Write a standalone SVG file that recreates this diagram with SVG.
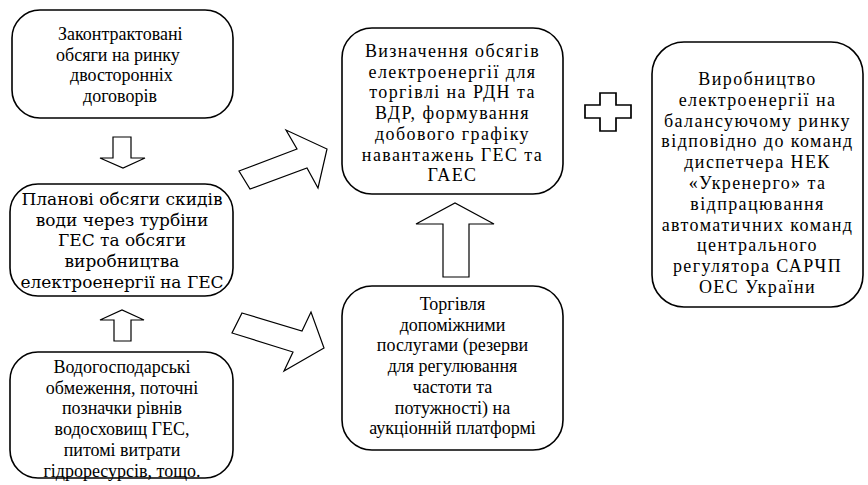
<svg xmlns="http://www.w3.org/2000/svg" width="868" height="485" viewBox="0 0 868 485">
  <rect width="868" height="485" fill="#ffffff"/>

  <g id="contracted">
    <rect x="12" y="10" width="221" height="108" rx="28" ry="28" fill="#ffffff" stroke="#000000" stroke-width="1.6"/>
    <text font-family="Liberation Serif" font-size="18" x="58" y="40">Законтрактовані</text>
    <text font-family="Liberation Serif" font-size="18" x="56" y="60.7">обсяги на ринку</text>
    <text font-family="Liberation Serif" font-size="18" x="70" y="81.4">двосторонніх</text>
    <text font-family="Liberation Serif" font-size="18" x="83" y="102.1">договорів</text>
  </g>

  <g id="planned">
    <rect x="10" y="184" width="223" height="112" rx="28" ry="28" fill="#ffffff" stroke="#000000" stroke-width="1.6"/>
    <text font-family="DejaVu Serif" font-size="17" text-anchor="middle" x="122" y="205">Планові обсяги скидів</text>
    <text font-family="DejaVu Serif" font-size="17" text-anchor="middle" x="122" y="225.7">води через турбіни</text>
    <text font-family="DejaVu Serif" font-size="17" text-anchor="middle" x="122" y="246.4">ГЕС та обсяги</text>
    <text font-family="DejaVu Serif" font-size="17" text-anchor="middle" x="122" y="267.1">виробництва</text>
    <text font-family="DejaVu Serif" font-size="17" text-anchor="middle" x="122" y="287.8">електроенергії на ГЕС</text>
  </g>

  <g id="constraints">
    <rect x="10" y="352" width="223" height="126" rx="28" ry="28" fill="#ffffff" stroke="#000000" stroke-width="1.6"/>
    <text font-family="Times New Roman" font-size="18" text-anchor="middle" x="122" y="373">Водогосподарські</text>
    <text font-family="Times New Roman" font-size="18" text-anchor="middle" x="122" y="393.7">обмеження, поточні</text>
    <text font-family="Times New Roman" font-size="18" text-anchor="middle" x="122" y="414.4">позначки рівнів</text>
    <text font-family="Times New Roman" font-size="18" text-anchor="middle" x="122" y="435.1">водосховищ ГЕС,</text>
    <text font-family="Times New Roman" font-size="18" text-anchor="middle" x="122" y="455.8">питомі витрати</text>
    <text font-family="Times New Roman" font-size="18" text-anchor="middle" x="122" y="476.5">гідроресурсів, тощо.</text>
  </g>

  <g id="volumes">
    <rect x="342" y="28" width="221" height="166" rx="30" ry="30" fill="#ffffff" stroke="#000000" stroke-width="1.6"/>
    <text style="font-family:'Liberation Serif',serif !important" font-size="18" letter-spacing="1.4" text-anchor="middle" x="452.5" y="57">Визначення обсягів</text>
    <text style="font-family:'Liberation Serif',serif !important" font-size="18" letter-spacing="1.4" text-anchor="middle" x="452.5" y="77.7">електроенергії для</text>
    <text style="font-family:'Liberation Serif',serif !important" font-size="18" letter-spacing="1.4" text-anchor="middle" x="452.5" y="98.4">торгівлі на РДН та</text>
    <text style="font-family:'Liberation Serif',serif !important" font-size="18" letter-spacing="1.4" text-anchor="middle" x="452.5" y="119.1">ВДР, формування</text>
    <text style="font-family:'Liberation Serif',serif !important" font-size="18" letter-spacing="1.4" text-anchor="middle" x="452.5" y="139.8">добового графіку</text>
    <text style="font-family:'Liberation Serif',serif !important" font-size="18" letter-spacing="1.4" text-anchor="middle" x="452.5" y="160.5">навантажень ГЕС та</text>
    <text style="font-family:'Liberation Serif',serif !important" font-size="18" letter-spacing="1.4" text-anchor="middle" x="452.5" y="181.2">ГАЕС</text>
  </g>

  <g id="ancillary">
    <rect x="342" y="286" width="221" height="164" rx="30" ry="30" fill="#ffffff" stroke="#000000" stroke-width="1.6"/>
    <text font-family="Liberation Serif" font-size="18" text-anchor="middle" x="452.5" y="310">Торгівля</text>
    <text font-family="Liberation Serif" font-size="18" text-anchor="middle" x="452.5" y="330.7">допоміжними</text>
    <text font-family="Liberation Serif" font-size="18" text-anchor="middle" x="452.5" y="351.4">послугами (резерви</text>
    <text font-family="Liberation Serif" font-size="18" text-anchor="middle" x="452.5" y="372.1">для регулювання</text>
    <text font-family="Liberation Serif" font-size="18" text-anchor="middle" x="452.5" y="392.8">частоти та</text>
    <text font-family="Liberation Serif" font-size="18" text-anchor="middle" x="452.5" y="413.5">потужності) на</text>
    <text font-family="Liberation Serif" font-size="18" text-anchor="middle" x="452.5" y="434.2">аукціонній платформі</text>
  </g>

  <g id="balancing">
    <rect x="652" y="42" width="211" height="265" rx="32" ry="32" fill="#ffffff" stroke="#000000" stroke-width="1.6"/>
    <text font-family="serif" font-size="18" letter-spacing="1.4" text-anchor="middle" x="757.5" y="85">Виробництво</text>
    <text font-family="serif" font-size="18" letter-spacing="1.4" text-anchor="middle" x="757.5" y="105.8">електроенергії на</text>
    <text font-family="serif" font-size="18" letter-spacing="1.4" text-anchor="middle" x="757.5" y="126.6">балансуючому ринку</text>
    <text font-family="serif" font-size="18" letter-spacing="1.4" text-anchor="middle" x="757.5" y="147.4">відповідно до команд</text>
    <text font-family="serif" font-size="18" letter-spacing="1.4" text-anchor="middle" x="757.5" y="168.2">диспетчера НЕК</text>
    <text font-family="serif" font-size="18" letter-spacing="1.4" text-anchor="middle" x="757.5" y="189">«Укренерго» та</text>
    <text font-family="serif" font-size="18" letter-spacing="1.4" text-anchor="middle" x="757.5" y="209.8">відпрацювання</text>
    <text font-family="serif" font-size="18" letter-spacing="1.4" text-anchor="middle" x="757.5" y="230.6">автоматичних команд</text>
    <text font-family="serif" font-size="18" letter-spacing="1.4" text-anchor="middle" x="757.5" y="251.4">центрального</text>
    <text font-family="serif" font-size="18" letter-spacing="1.4" text-anchor="middle" x="757.5" y="272.2">регулятора САРЧП</text>
    <text font-family="serif" font-size="18" letter-spacing="1.4" text-anchor="middle" x="757.5" y="293">ОЕС України</text>
  </g>

  <g id="connectors" fill="#ffffff" stroke="#000000" stroke-width="1.2">
    <polygon points="113,137 131,137 131,158 145,158 123,168 100,158 113,158"/>
    <polygon points="114,341 131,341 131,320 144,320 122,310 100,320 114,320"/>
    <polygon points="239,171 297,149 286,130 327,149 318,188 307,168 250,189"/>
    <polygon points="242,313 302,331 311,312 324,348 284,371 293,352 232,333"/>
    <polygon points="443,277 469,277 469,224 494,224 455,203 416,224 443,224"/>
    <polygon points="600,93 616,93 616,105 631,105 631,118 616,118 616,131 600,131 600,118 585,118 585,105 600,105" stroke-width="1.7"/>
  </g>
</svg>
